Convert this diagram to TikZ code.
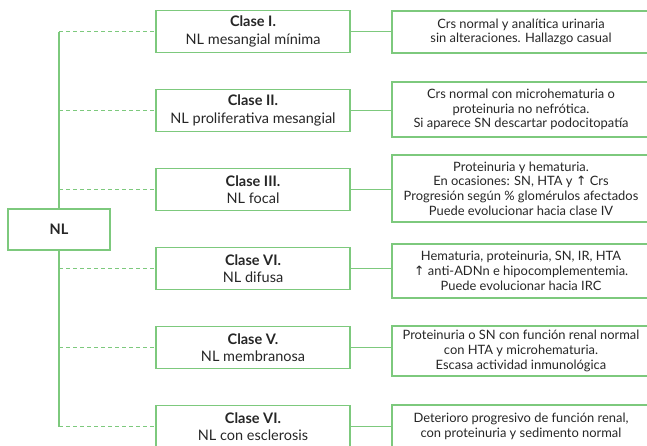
\documentclass[tikz,border=0pt]{standalone}
\usepackage{fontspec}
\setmainfont{Lato}
\newfontfamily\symfont{DejaVu Sans}
\usetikzlibrary{positioning,calc}
\definecolor{nlgreen}{RGB}{125,201,125}
\definecolor{nltext}{RGB}{38,38,38}
\newcommand{\subeflecha}{{\symfont\char"2191}}
\tikzset{
  rootbox/.style={draw=nlgreen, line width=1.3pt, minimum width=102pt, minimum height=41pt,
      font=\fontsize{14.5}{17.5}\selectfont\bfseries, text=nltext},
  clsbox/.style={draw=nlgreen, line width=1.3pt, minimum width=194pt, minimum height=42pt,
      inner sep=0pt, align=center, font=\fontsize{14.5}{17.5}\selectfont, text=nltext},
  dscbox/.style={draw=nlgreen, line width=1.3pt, minimum width=258pt, inner sep=0pt,
      align=center, font=\fontsize{12.9}{14.7}\selectfont, text=nltext},
  trunk/.style={nlgreen, line width=1.3pt},
  twig/.style={nlgreen, line width=1pt, dash pattern=on 4pt off 3pt},
}
\begin{document}
\begin{tikzpicture}[x=1pt, y=-1pt]
  \clip (0,0) rectangle (647,445);
  % clasificacion
  \node[rootbox] (nl) at (59,229.5) {NL};
  \node[clsbox] (c1) at (253,31.5) {\textbf{Clase I.}\\NL mesangial mínima};
  \node[clsbox] (c2) at (253,110.5) {\textbf{Clase II.}\\NL proliferativa mesangial};
  \node[clsbox] (c3) at (253,189.5) {\textbf{Clase III.}\\NL focal};
  \node[clsbox] (c4) at (253,268.5) {\textbf{Clase VI.}\\NL difusa};
  \node[clsbox] (c5) at (253,347.5) {\textbf{Clase V.}\\NL membranosa};
  \node[clsbox] (c6) at (253,426.5) {\textbf{Clase VI.}\\NL con esclerosis};
  % clinica
  \node[dscbox, minimum height=42pt] (d1) at (521,32) {Crs normal y analítica urinaria\\sin alteraciones. Hallazgo casual};
  \node[dscbox, minimum height=55pt] (d2) at (521,109.5) {Crs normal con microhematuria o\\proteinuria no nefrótica.\\Si aparece SN descartar podocitopatía};
  \node[dscbox, minimum height=67pt] (d3) at (521,188.5) {Proteinuria y hematuria.\\En ocasiones: SN, HTA y \subeflecha{} Crs\\Progresión según \% glomérulos afectados\\Puede evolucionar hacia clase IV};
  \node[dscbox, minimum height=54pt] (d4) at (521,271) {Hematuria, proteinuria, SN, IR, HTA\\\subeflecha{} anti-ADNn e hipocomplementemia.\\Puede evolucionar hacia IRC};
  \node[dscbox, minimum height=50pt] (d5) at (521,351) {Proteinuria o SN con función renal normal\\con HTA y microhematuria.\\Escasa actividad inmunológica};
  \node[dscbox, minimum height=42pt] (d6) at (521,426) {Deterioro progresivo de función renal,\\con proteinuria y sedimento normal};
  % tronco
  \draw[trunk] (nl.north) -- (nl.north |- c1.west);
  \draw[trunk] (nl.south) -- (nl.south |- c6.west);
  \foreach \i in {1,...,6} {
    \draw[twig] (nl.center |- c\i.west) -- (c\i.west);
    \draw[trunk] (c\i.east) -- (c\i.east -| d\i.west);
  }
\end{tikzpicture}
\end{document}
